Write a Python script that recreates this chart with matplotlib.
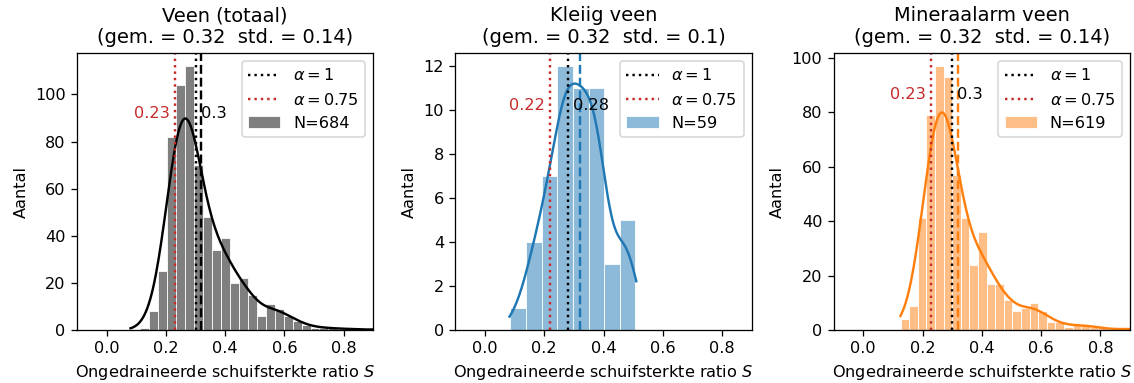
import numpy as np
import matplotlib
matplotlib.use('Agg')
import matplotlib.pyplot as plt
from matplotlib.lines import Line2D
import seaborn as sns

#chart data
TITLES = ['Veen (totaal)', 'Kleiig veen', 'Mineraalarm veen']
N_LABELS = [684, 59, 619]
MEAN_S = [0.32, 0.32, 0.32]
STD_S = [0.14, 0.1, 0.14]
S_ALPHA1 = [0.3, 0.28, 0.3]
S_ALPHA075 = [0.23, 0.22, 0.23]

#histogram bins (start at data minimum) and counts per bin
BIN_START = [0.082, 0.086, 0.126]
BIN_WIDTH = [0.0303, 0.0527, 0.029]
counts_totaal = [0, 1, 8, 25, 82, 104, 112, 70, 48, 34, 39, 20, 22, 15, 6,
                 11, 9, 6, 4, 2, 1, 1, 1, 0, 1, 0, 0, 0, 1, 1]
counts_klei = [1, 4, 7, 12, 11, 11, 3, 5]
counts_mineraal = [4, 9, 41, 79, 97, 93, 57, 41, 24, 36, 17, 17, 11, 7, 8,
                   10, 7, 3, 3, 1, 2, 2, 1, 1, 0, 0, 1, 0, 0, 1]
COUNTS = [counts_totaal, counts_klei, counts_mineraal]

#styling
COLORS = ['black', 'tab:blue', 'tab:orange']
RED = '#c62b2b'
TEXT_Y = [90, 10, 85]
KDE_CUT = [1.2, 0.8, 0.4]
KDE_BW = [1.25, 0.9, 1.15]

DPI = 116
fig, axes = plt.subplots(1, 3, figsize=(1134 / DPI, 383 / DPI), dpi=DPI)
fig.subplots_adjust(left=77 / 1134, right=1130 / 1134, bottom=1 - 330 / 383,
                    top=1 - 53 / 383, wspace=82 / 296.3)

for i, ax in enumerate(axes):
    counts = np.array(COUNTS[i])
    edges = BIN_START[i] + BIN_WIDTH[i] * np.arange(len(counts) + 1)
    centers = (edges[:-1] + edges[1:]) / 2
    values = np.repeat(centers, counts)

    sns.histplot(x=values, bins=edges, kde=True, color=COLORS[i], ax=ax,
                 alpha=0.5, edgecolor='white', linewidth=0.5,
                 kde_kws={'cut': KDE_CUT[i], 'bw_adjust': KDE_BW[i]},
                 line_kws={'linewidth': 1.5})

    ax.axvline(S_ALPHA1[i], color='black', linestyle=':', linewidth=1.5)
    ax.axvline(S_ALPHA075[i], color=RED, linestyle=':', linewidth=1.5)
    ax.axvline(MEAN_S[i], color=COLORS[i], linestyle='--', linewidth=1.5)

    ax.text(S_ALPHA075[i], TEXT_Y[i], f'{S_ALPHA075[i]} ', color=RED, ha='right')
    ax.text(S_ALPHA1[i], TEXT_Y[i], f' {S_ALPHA1[i]}', color='black', ha='left')

    bar_handle = ax.patches[1]
    ax.legend([Line2D([], [], color='black', linestyle=':', linewidth=1.5),
               Line2D([], [], color=RED, linestyle=':', linewidth=1.5),
               bar_handle],
              [r'$\alpha = 1$', r'$\alpha = 0.75$', f'N={N_LABELS[i]}'],
              loc='upper right')

    ax.set_xlim(-0.1, 0.9)
    ax.set_xticks([0.0, 0.2, 0.4, 0.6, 0.8])
    ax.set_title(f'{TITLES[i]}\n(gem. = {MEAN_S[i]}  std. = {STD_S[i]})')
    ax.set_xlabel('Ongedraineerde schuifsterkte ratio $S$')
    ax.set_ylabel('Aantal')

plt.savefig('out.png', dpi=DPI)
